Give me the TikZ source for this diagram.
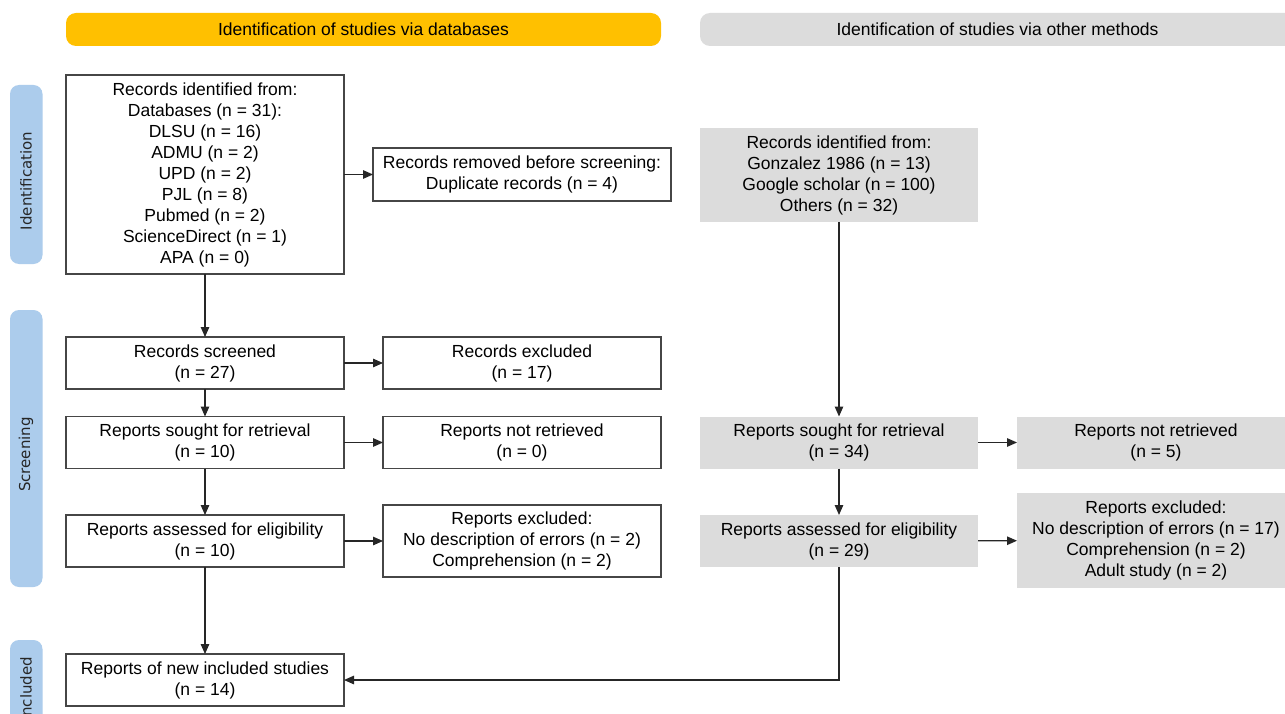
\documentclass[tikz,border=0pt]{standalone}
\usepackage{fontspec}
\setmainfont{Liberation Sans}
\newfontfamily\labfont{DejaVu Sans}
\usetikzlibrary{arrows.meta}
\definecolor{hdryellow}{RGB}{255,192,0}
\definecolor{hdrgrey}{RGB}{220,220,220}
\definecolor{boxgrey}{RGB}{220,220,220}
\definecolor{stageblue}{RGB}{172,204,236}
\definecolor{edgegrey}{RGB}{70,70,70}
\begin{document}
\begin{tikzpicture}[x=1pt,y=-1pt,
  every node/.style={inner sep=0pt, outer sep=0pt, align=center},
  txt/.style={font=\fontsize{17.5}{21}\selectfont},
  wbox/.style={txt, draw=edgegrey, line width=1.3pt, fill=white, minimum width=278pt, minimum height=52pt},
  gbox/.style={txt, fill=boxgrey, minimum width=278pt, minimum height=52pt},
  header/.style={txt, rounded corners=10pt, minimum height=33pt, minimum width=595pt},
  stagebox/.style={fill=stageblue, rounded corners=9pt, minimum width=32.5pt},
  stagetext/.style={font=\labfont\fontsize{15}{18}\selectfont, text=black!85, rotate=90},
  conn/.style={draw=black!85, line width=1.2pt},
  arr/.style={conn, -{Triangle[length=10pt,width=8.5pt]}}
]
\useasboundingbox (0,0) rectangle (1285,714);
\clip (0,0) rectangle (1285,714);
\fill[white] (0,0) rectangle (1285,714);

% headers
\node[header, fill=hdryellow] (h1) at (363.5,29.5) {Identification of studies via databases};
\node[header, fill=hdrgrey] (h2) at (997.5,29.5) {Identification of studies via other methods};

% stage labels
\node[stagebox, minimum height=179pt] (s1) at (26.25,174.5) {};
\node[stagetext] (s1t) at (26,181) {Identification};
\node[stagebox, minimum height=277pt] (s2) at (26.25,448.5) {};
\node[stagetext] (s2t) at (26,454.5) {Screening};
\node[stagebox, minimum height=100pt] (s3) at (26.25,690) {};
\node[stagetext] (s3t) at (26,689) {Included};

% left column
\node[wbox, minimum height=199pt] (A) at (205,174.5) {Records identified from:\\Databases (n = 31):\\DLSU (n = 16)\\ADMU (n = 2)\\UPD (n = 2)\\PJL (n = 8)\\Pubmed (n = 2)\\ScienceDirect (n = 1)\\APA (n = 0)};
\node[wbox, minimum width=298pt, minimum height=53pt] (B) at (522,174.5) {Records removed before screening:\\Duplicate records (n = 4)};
\node[wbox] (C) at (205,363) {Records screened\\(n = 27)};
\node[wbox] (D) at (522,363) {Records excluded\\(n = 17)};
\node[wbox] (E) at (205,442.5) {Reports sought for retrieval\\(n = 10)};
\node[wbox] (F) at (522,442.5) {Reports not retrieved\\(n = 0)};
\node[wbox] (G) at (205,541) {Reports assessed for eligibility\\(n = 10)};
\node[wbox, minimum height=72pt] (H) at (522,541) {Reports excluded:\\No description of errors (n = 2)\\Comprehension (n = 2)};
\node[wbox] (I) at (205,680) {Reports of new included studies\\(n = 14)};

% right column
\node[gbox, minimum height=94pt] (J) at (839,175) {Records identified from:\\Gonzalez 1986 (n = 13)\\Google scholar (n = 100)\\Others (n = 32)};
\node[gbox] (K) at (839,442.5) {Reports sought for retrieval\\(n = 34)};
\node[gbox] (L) at (1156,442.5) {Reports not retrieved\\(n = 5)};
\node[gbox] (M) at (839,541) {Reports assessed for eligibility\\(n = 29)};
\node[gbox, minimum height=95pt] (N) at (1156,540.5) {Reports excluded:\\No description of errors (n = 17)\\Comprehension (n = 2)\\Adult study (n = 2)};
\coordinate (bend) at (839,680);

% connectors
\draw[arr] (A) -- (B);
\draw[arr] (A) -- (C);
\draw[arr] (C) -- (D);
\draw[arr] (C) -- (E);
\draw[arr] (E) -- (F);
\draw[arr] (E) -- (G);
\draw[arr] (G) -- (H);
\draw[arr] (G) -- (I);
\draw[arr] (J) -- (K);
\draw[arr] (K) -- (L);
\draw[arr] (K) -- (M);
\draw[arr] (M) -- (N);
\draw[arr] (M.south) -- (bend) -- (I.east);
\end{tikzpicture}
\end{document}
